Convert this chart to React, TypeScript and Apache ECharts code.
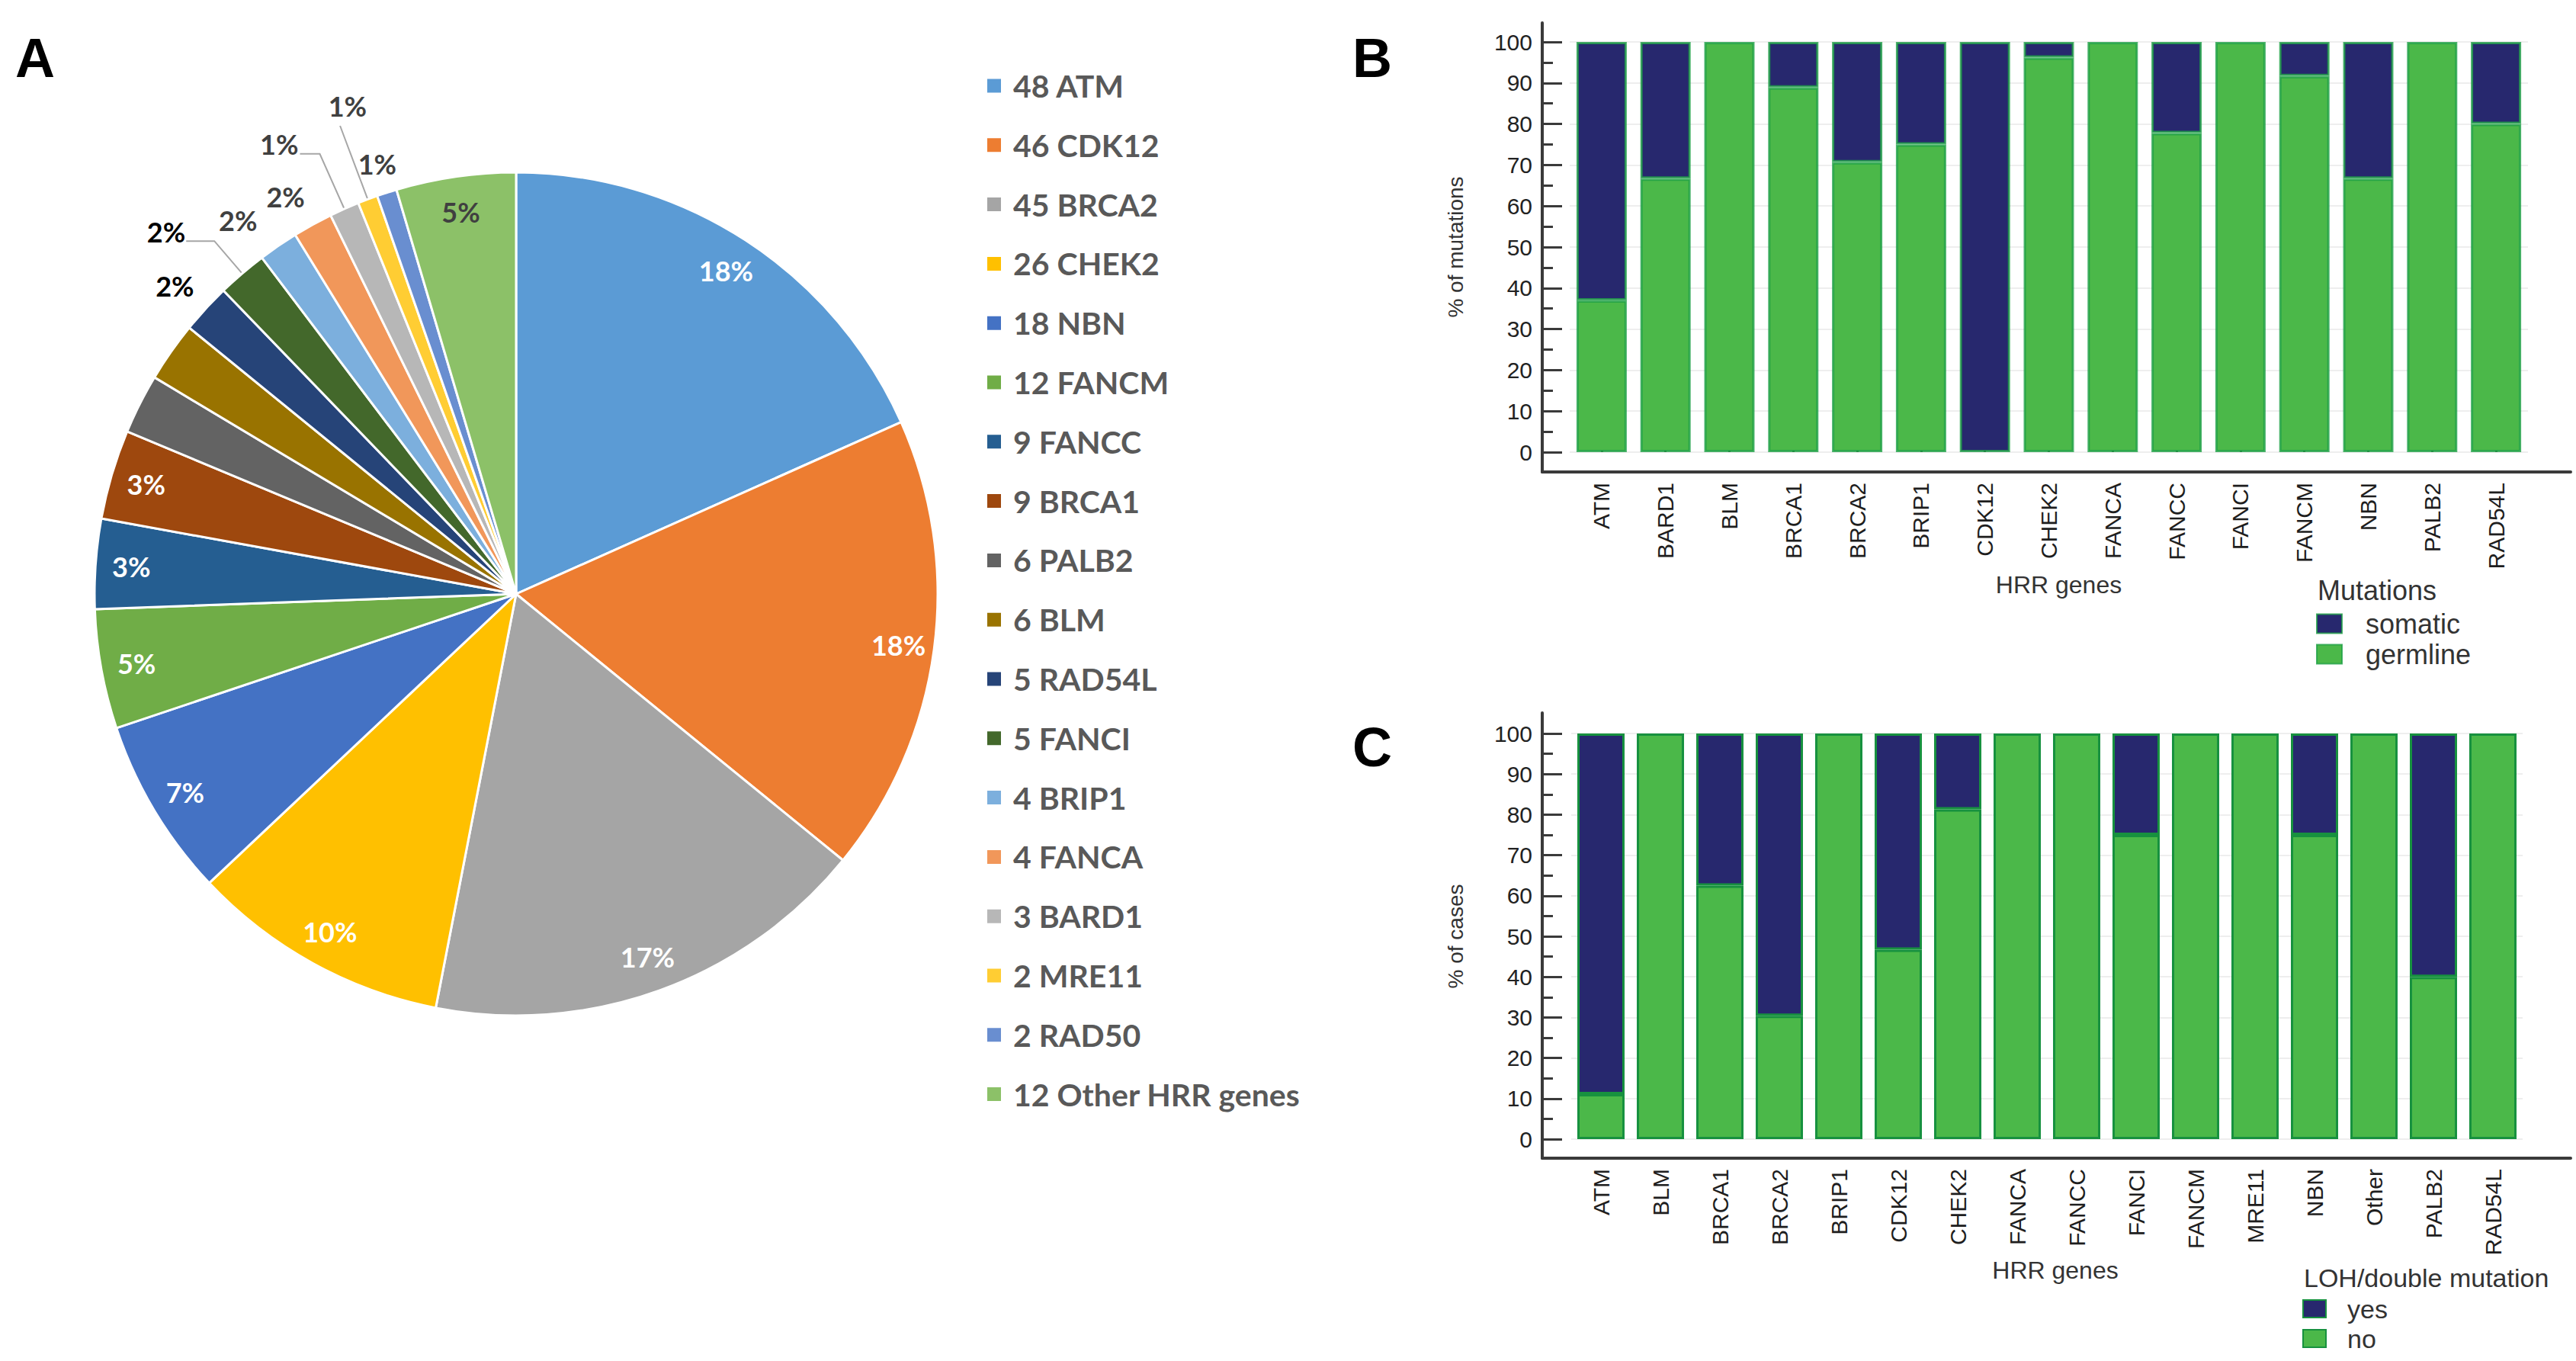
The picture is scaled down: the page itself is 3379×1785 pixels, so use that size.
import { useEffect, useRef } from 'react';
import * as echarts from 'echarts';

// Panel A: HRR gene counts
const pieGenes = ['ATM', 'CDK12', 'BRCA2', 'CHEK2', 'NBN', 'FANCM', 'FANCC', 'BRCA1', 'PALB2', 'BLM', 'RAD54L', 'FANCI', 'BRIP1', 'FANCA', 'BARD1', 'MRE11', 'RAD50', 'Other HRR genes'];
const pieCounts = [48, 46, 45, 26, 18, 12, 9, 9, 6, 6, 5, 5, 4, 4, 3, 2, 2, 12];
const pieColors = ['#5B9BD5', '#ED7D31', '#A5A5A5', '#FFC000', '#4472C4', '#70AD47', '#255E91', '#9E480E', '#636363', '#997300', '#264478', '#43682B', '#7CAFDD', '#F1975A', '#B7B7B7', '#FFCD33', '#698ED0', '#8CC168'];

// Panel B: germline vs somatic share per gene
const bGenes = ['ATM', 'BARD1', 'BLM', 'BRCA1', 'BRCA2', 'BRIP1', 'CDK12', 'CHEK2', 'FANCA', 'FANCC', 'FANCI', 'FANCM', 'NBN', 'PALB2', 'RAD54L'];
const bGermline = [37, 66.7, 100, 88.9, 70.7, 75, 0, 96.2, 100, 77.8, 100, 91.7, 66.7, 100, 80];
const bSomatic = [63, 33.3, 0, 11.1, 29.3, 25, 100, 3.8, 0, 22.2, 0, 8.3, 33.3, 0, 20];

// Panel C: LOH / double mutation per gene
const cGenes = ['ATM', 'BLM', 'BRCA1', 'BRCA2', 'BRIP1', 'CDK12', 'CHEK2', 'FANCA', 'FANCC', 'FANCI', 'FANCM', 'MRE11', 'NBN', 'Other', 'PALB2', 'RAD54L'];
const cNo = [11.1, 100, 62.5, 30.4, 100, 46.7, 81.3, 100, 100, 75, 100, 100, 75, 100, 40, 100];
const cYes = [88.9, 0, 37.5, 69.6, 0, 53.3, 18.7, 0, 0, 25, 0, 0, 25, 0, 60, 0];

const yTicks = { min: 0, max: 100, interval: 10 };

// label styling for the pie
const insideLabelled = ['ATM', 'CDK12', 'BRCA2', 'CHEK2', 'NBN', 'FANCM', 'FANCC', 'BRCA1', 'Other HRR genes'];
const outsideLabelStyle: Record<string, { len: number; len2: number; line: boolean; color: string; dx?: number; dy?: number }> = {
    RAD54L: { len: 44, len2: 0, line: false, color: '#000', dx: 22 },
    FANCI: { len: 56, len2: 37, line: true, color: '#000', dx: 4, dy: -12 },
    BRIP1: { len: 40, len2: 0, line: false, color: '#404040' },
    FANCA: { len: 42, len2: 0, line: false, color: '#404040', dx: 15 },
    BARD1: { len: 79, len2: 26, line: true, color: '#404040', dx: 3, dy: -13 },
    MRE11: { len: 103, len2: 0, line: true, color: '#404040', dx: 40, dy: -26 },
    RAD50: { len: 40, len2: 0, line: false, color: '#404040', dx: 30 },
};

const NAVY = '#27286E';
const GREEN = '#4BB849';
const AXIS = '#3a3a3a';
const ARIAL = '"Liberation Sans", Arial, sans-serif';
const CALIBRI = 'Lato, "Open Sans", sans-serif';
const PIE_CENTER = [677, 779];
const PIE_R = 553;

const pct = (p: { percent: number }) => `${Math.round(p.percent)}%`;

// zero-height stacked pieces get no outline
const barData = (vals: number[], border: number) =>
    vals.map((v) => ({ value: v, itemStyle: { borderWidth: v === 0 ? 0 : border } }));

const barAxes = (cats: string[], gridMain: number, gridFrame: number, offX: number, offY: number, yName: string, xNameGap: number, xNameShift: number) => {
    const x = [
        {
            type: 'category',
            gridIndex: gridMain,
            data: cats,
            offset: offX,
            axisLine: { show: false },
            axisTick: { show: true, inside: true, alignWithLabel: true, length: 22, lineStyle: { color: AXIS, width: 3 } },
            axisLabel: { rotate: 90, margin: 14, fontSize: 30, color: '#1e1e1e', fontFamily: ARIAL, interval: 0 },
            name: 'HRR genes',
            nameLocation: 'middle',
            nameGap: xNameGap,
            nameTextStyle: { fontSize: 32, color: '#333', fontFamily: ARIAL, padding: [0, 0, 0, xNameShift] },
        },
        {
            type: 'value',
            gridIndex: gridFrame,
            min: 0,
            max: 1,
            axisLine: { show: true, lineStyle: { color: AXIS, width: 4 } },
            axisTick: { show: false },
            axisLabel: { show: false },
            splitLine: { show: false },
        },
    ];
    const y = [
        {
            type: 'value',
            gridIndex: gridMain,
            ...yTicks,
            offset: offY,
            axisLine: { show: false },
            axisTick: { show: true, inside: true, length: 26, lineStyle: { color: AXIS, width: 3 } },
            minorTick: { show: true, splitNumber: 2, length: 14, lineStyle: { color: AXIS, width: 3 } },
            axisLabel: { margin: 13, fontSize: 30, color: '#222', fontFamily: ARIAL },
            splitLine: { show: true, lineStyle: { color: '#eeeeee', width: 2 } },
            name: yName,
            nameLocation: 'middle',
            nameGap: 100,
            nameRotate: 90,
            nameTextStyle: { fontSize: 28, color: '#333', fontFamily: ARIAL },
        },
        {
            type: 'value',
            gridIndex: gridFrame,
            min: 0,
            max: 1,
            axisLine: { show: true, lineStyle: { color: AXIS, width: 4 } },
            axisTick: { show: false },
            axisLabel: { show: false },
            splitLine: { show: false },
        },
    ];
    return { x, y };
};

const App = () => {
    const chartRef = useRef<HTMLDivElement>(null);

    useEffect(() => {
        document.body.style.margin = '0';
        const myChart = echarts.init(chartRef.current, null, { renderer: 'svg' });

        const b = barAxes(bGenes, 0, 1, 26, 36, '% of mutations', 132, 26);
        const c = barAxes(cGenes, 2, 3, 25, 38, '% of cases', 129, 22);

        const mainPieData = pieGenes.map((name, i) => {
            const o = outsideLabelStyle[name];
            return {
                name,
                value: pieCounts[i],
                itemStyle: { color: pieColors[i] },
                label: o
                    ? { show: true, position: 'outside', color: o.color, fontSize: 36, fontWeight: 'bold', fontFamily: CALIBRI, formatter: pct }
                    : { show: false },
                labelLine: o
                    ? { show: o.line, length: o.len, length2: o.len2, lineStyle: { color: '#a6a6a6', width: 2 } }
                    : { show: false },
            };
        });

        const innerLabelData = pieGenes.map((name, i) => ({
            name,
            value: pieCounts[i],
            label: insideLabelled.includes(name)
                ? { show: true, color: name === 'Other HRR genes' ? '#404040' : '#ffffff' }
                : { show: false },
        }));

        myChart.setOption({
            animation: false,
            graphic: [
                { type: 'text', left: 20, top: 40, style: { text: 'A', font: 'bold 72px "Liberation Sans", Arial', fill: '#000' } },
                { type: 'text', left: 1774, top: 40, style: { text: 'B', font: 'bold 72px "Liberation Sans", Arial', fill: '#000' } },
                { type: 'text', left: 1774, top: 944, style: { text: 'C', font: 'bold 72px "Liberation Sans", Arial', fill: '#000' } },
            ],
            title: [
                { text: 'Mutations', left: 3040, top: 756, padding: 0, textStyle: { fontSize: 36, fontWeight: 'normal', color: '#333', fontFamily: ARIAL } },
                { text: 'LOH/double mutation', left: 3022, top: 1659, padding: 0, textStyle: { fontSize: 34, fontWeight: 'normal', color: '#333', fontFamily: ARIAL } },
            ],
            legend: [
                {
                    data: pieGenes,
                    orient: 'vertical',
                    left: 1293,
                    top: 92,
                    padding: 0,
                    icon: 'rect',
                    itemWidth: 20,
                    itemHeight: 20,
                    itemGap: 36.8,
                    formatter: (name: string) => `${pieCounts[pieGenes.indexOf(name)]} ${name}`,
                    textStyle: { fontFamily: CALIBRI, fontWeight: 'bold', fontSize: 41, color: '#595959', lineHeight: 41, padding: [0, 0, 0, 10] },
                },
                {
                    data: ['somatic', 'germline'],
                    orient: 'vertical',
                    left: 3038,
                    top: 798,
                    padding: 0,
                    icon: 'rect',
                    itemWidth: 33,
                    itemHeight: 25,
                    itemGap: 0,
                    textStyle: { fontFamily: ARIAL, fontSize: 36, color: '#333', lineHeight: 40, padding: [0, 0, 0, 26] },
                },
                {
                    data: ['yes', 'no'],
                    orient: 'vertical',
                    left: 3020,
                    top: 1697,
                    padding: 0,
                    icon: 'rect',
                    itemWidth: 30,
                    itemHeight: 23,
                    itemGap: 0,
                    textStyle: { fontFamily: ARIAL, fontSize: 34, color: '#333', lineHeight: 39, padding: [0, 0, 0, 23] },
                },
            ],
            grid: [
                { left: 2059, top: 55, width: 1257, height: 538 },
                { left: 2023, top: 30, width: 1349, height: 589 },
                { left: 2061, top: 962, width: 1248, height: 532 },
                { left: 2023, top: 935, width: 1349, height: 584 },
            ],
            xAxis: [...b.x, ...c.x],
            yAxis: [...b.y, ...c.y],
            series: [
                {
                    type: 'pie',
                    center: PIE_CENTER,
                    radius: PIE_R,
                    startAngle: 90,
                    avoidLabelOverlap: false,
                    itemStyle: { borderColor: '#ffffff', borderWidth: 3 },
                    labelLayout: (params: { dataIndex: number }) => {
                        const o = outsideLabelStyle[pieGenes[params.dataIndex]];
                        return { hideOverlap: false, moveOverlap: false, dx: o?.dx ?? 0, dy: o?.dy ?? 0 };
                    },
                    data: mainPieData,
                },
                {
                    type: 'pie',
                    center: PIE_CENTER,
                    radius: [PIE_R - 100, PIE_R],
                    startAngle: 90,
                    silent: true,
                    avoidLabelOverlap: false,
                    itemStyle: { color: 'rgba(0,0,0,0)', borderWidth: 0 },
                    label: { position: 'inside', fontSize: 36, fontWeight: 'bold', fontFamily: CALIBRI, formatter: pct },
                    labelLine: { show: false },
                    data: innerLabelData,
                },
                {
                    type: 'bar',
                    name: 'germline',
                    xAxisIndex: 0,
                    yAxisIndex: 0,
                    stack: 'b',
                    barWidth: 66,
                    data: barData(bGermline, 3),
                    itemStyle: { color: GREEN, borderColor: 'rgba(30,160,70,0.8)', borderWidth: 3 },
                },
                {
                    type: 'bar',
                    name: 'somatic',
                    xAxisIndex: 0,
                    yAxisIndex: 0,
                    stack: 'b',
                    barWidth: 66,
                    data: barData(bSomatic, 3),
                    itemStyle: { color: NAVY, borderColor: 'rgba(30,160,70,0.8)', borderWidth: 3 },
                },
                {
                    type: 'bar',
                    name: 'no',
                    xAxisIndex: 2,
                    yAxisIndex: 2,
                    stack: 'c',
                    barWidth: 62,
                    data: barData(cNo, 3),
                    itemStyle: { color: GREEN, borderColor: '#17913f', borderWidth: 3 },
                },
                {
                    type: 'bar',
                    name: 'yes',
                    xAxisIndex: 2,
                    yAxisIndex: 2,
                    stack: 'c',
                    barWidth: 62,
                    data: barData(cYes, 3),
                    itemStyle: { color: NAVY, borderColor: '#17913f', borderWidth: 3 },
                },
            ],
        });

        return () => {
            myChart.dispose();
        };
    }, []);

    return <div ref={chartRef} style={{ width: '3379px', height: '1785px' }} />;
};

export default App;
